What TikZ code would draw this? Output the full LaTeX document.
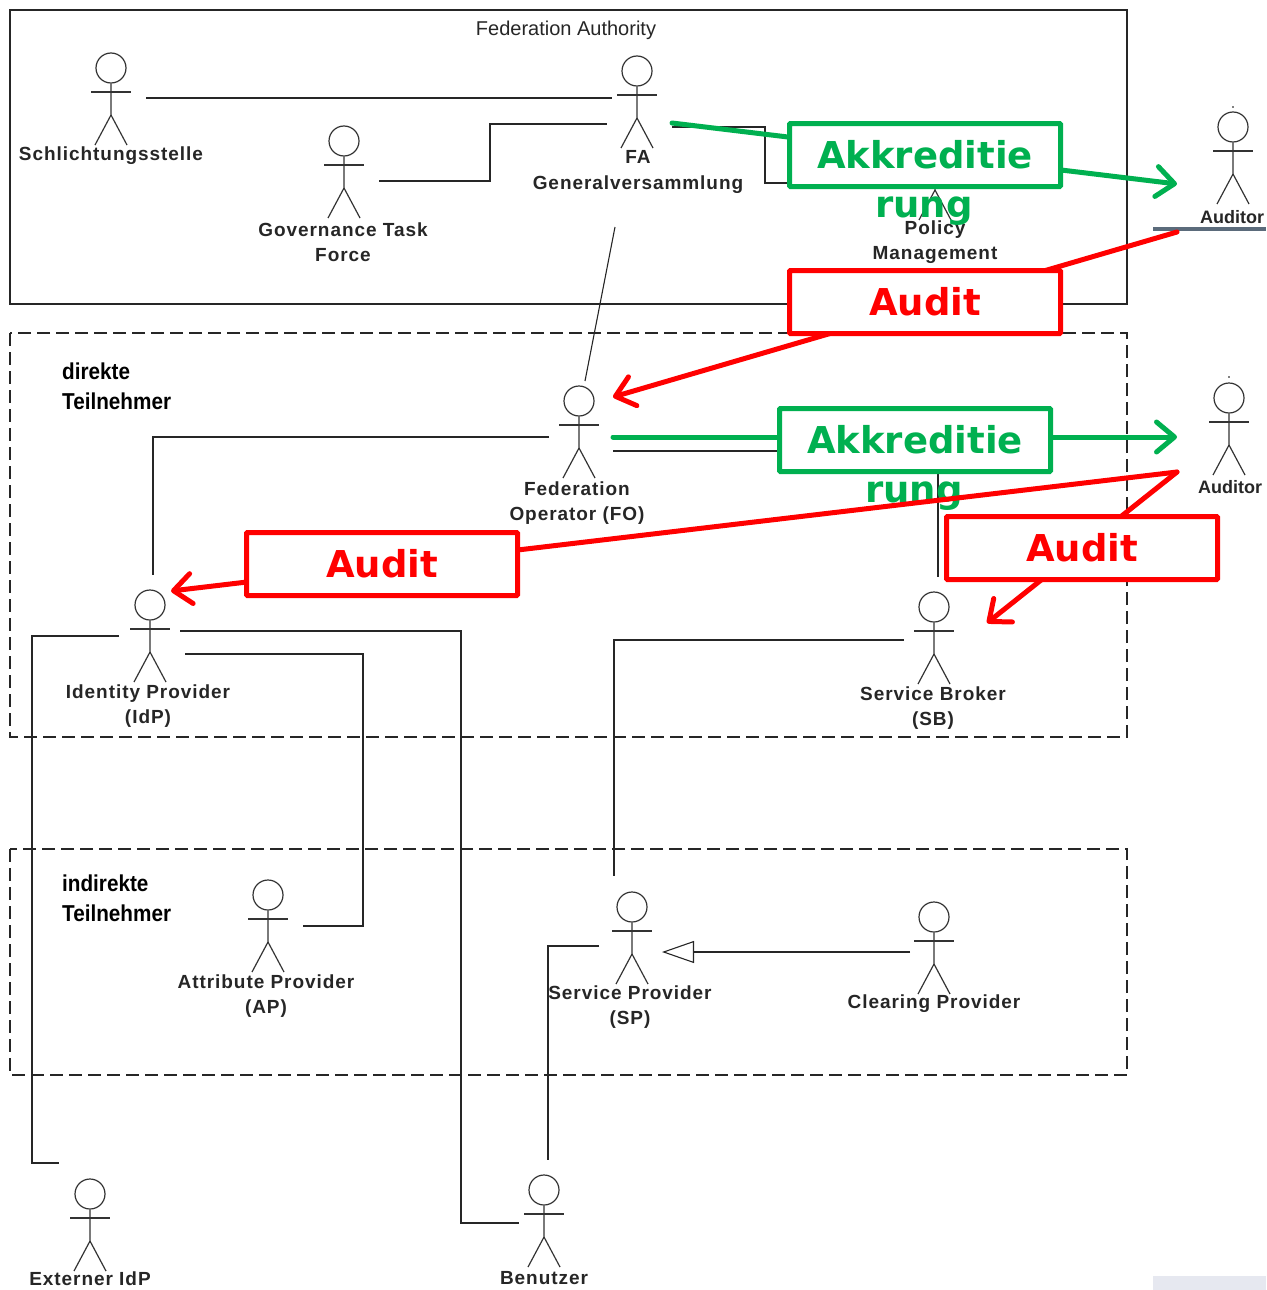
\documentclass[tikz,border=0pt]{standalone}
\usepackage{fontspec}
\setmainfont{Liberation Sans}
\newfontfamily\boxfont{DejaVu Sans}
\newfontfamily\lblfont[LetterSpace=5]{Liberation Sans}
\usetikzlibrary{arrows.meta}
\definecolor{akkgreen}{HTML}{00B050}
\definecolor{barblue}{HTML}{5B6B7B}
\definecolor{cornergray}{HTML}{E6E8F0}
\tikzset{
  every pic/.style={line width=1.2pt,draw=black!80},
  actor/.pic={
    \node[circle,draw,minimum size=30pt,inner sep=0pt] (-head) at (0,0) {};
    \draw (-head.south) -- (0,47) -- (-16,77);
    \draw (0,47) -- (16,77);
    \draw (-20,24) -- (20,24);
  },
  lbl/.style={font=\lblfont\fontsize{19}{25.5}\bfseries\selectfont,align=center,inner sep=0pt,text=black!85},
  grp/.style={font=\fontsize{23}{30}\selectfont\bfseries,align=left,inner sep=0pt,anchor=west,xscale=0.9,transform shape},
  wire/.style={line width=1.1pt,black!85},
  frame/.style={line width=1.3pt,black!85},
  dframe/.style={frame,dash pattern=on 13pt off 6pt},
  akk/.style={draw=akkgreen,text=akkgreen,fill=white,line width=5pt,rounded corners=1pt,
    minimum width=271pt,minimum height=63pt,inner sep=0pt,font=\boxfont\fontsize{37}{37}\bfseries\selectfont},
  audit/.style={akk,draw=red,text=red},
  overflow/.style={text=akkgreen,inner sep=0pt,font=\boxfont\fontsize{37}{37}\bfseries\selectfont},
  flow/.style={line width=5pt,line cap=round,-{Straight Barb[length=18pt,width=30pt,round]}}
}
\begin{document}
\begin{tikzpicture}[x=1pt,y=-1pt]
  \useasboundingbox (0,0) rectangle (1266,1290);
  \fill[cornergray] (1153,1276) rectangle (1266,1290);

  % groups
  \draw[frame] (10,10) rectangle (1127,304);
  \draw[dframe] (10,333) rectangle (1127,737);
  \draw[dframe] (10,849) rectangle (1127,1075);
  \node[lbl,font=\fontsize{20}{25}\selectfont] (faTitle) at (566,30) {Federation Authority};
  \node[grp] (direkt) at (62,386) {direkte\\Teilnehmer};
  \node[grp] (indirekt) at (62,898) {indirekte\\Teilnehmer};

  % actors
  \pic (schlicht) at (111,68) {actor};
  \pic (gov) at (344,141) {actor};
  \pic (fa) at (637,71) {actor};
  \pic (policy) at (935,143) {actor};
  \pic (fo) at (579,401) {actor};
  \pic (idp) at (150,605) {actor};
  \pic (sb) at (934,607) {actor};
  \pic (ap) at (268,895) {actor};
  \pic (sp) at (632,907) {actor};
  \pic (clearing) at (934,917) {actor};
  \pic (extern) at (90,1194) {actor};
  \pic (benutzer) at (544,1190) {actor};
  \pic[draw=black,line width=1.6pt] (auditorA) at (1233,127) {actor};
  \pic[draw=black,line width=1.6pt] (auditorB) at (1229,398) {actor};
  \fill (1233,107) circle (0.8pt) (1229,377) circle (0.8pt);
  \draw[barblue,line width=4pt] (1153,229) -- (1266,229);

  \node[lbl] (schlichtLbl) at (111,156) {Schlichtungsstelle};
  \node[lbl] (govLbl) at (343,242) {Governance Task\\Force};
  \node[lbl] (faLbl) at (638,172) {FA\\Generalversammlung};
  \node[lbl] (policyLbl) at (935,242) {Policy\\Management};
  \node[lbl] (foLbl) at (577,503) {Federation\\Operator (FO)};
  \node[lbl] (idpLbl) at (148,706) {Identity Provider\\(IdP)};
  \node[lbl] (sbLbl) at (933,708) {Service Broker\\(SB)};
  \node[lbl] (apLbl) at (266,996) {Attribute Provider\\(AP)};
  \node[lbl] (spLbl) at (630,1007) {Service Provider\\(SP)};
  \node[lbl] (clearingLbl) at (934,1004) {Clearing Provider};
  \node[lbl] (externLbl) at (90,1279) {Externer IdP};
  \node[lbl] (benutzerLbl) at (544,1278) {Benutzer};
  \node[lbl,font=\fontsize{18}{18}\bfseries\selectfont] (auditorALbl) at (1232,217) {Auditor};
  \node[lbl,font=\fontsize{18}{18}\bfseries\selectfont] (auditorBLbl) at (1230,487) {Auditor};

  % connector ends
  \coordinate (schlichtE) at (146,98);
  \coordinate (faW) at (612,98);
  \coordinate (govE) at (379,181);
  \coordinate (faWb) at (607,124);
  \coordinate (faE) at (672,127);
  \coordinate (policyW) at (915,183);
  \coordinate (faS) at (615,227);
  \coordinate (foN) at (585,381);
  \coordinate (foW) at (549,437);
  \coordinate (idpN) at (153,575);
  \coordinate (foE) at (613,451);
  \coordinate (sbN) at (938,577);
  \coordinate (idpW) at (119,636);
  \coordinate (externW) at (59,1163);
  \coordinate (idpE) at (180,631);
  \coordinate (benutzerW) at (519,1223);
  \coordinate (idpEb) at (185,654);
  \coordinate (apE) at (303,926);
  \coordinate (sbW) at (904,640);
  \coordinate (spN) at (614,876);
  \coordinate (spW) at (599,946);
  \coordinate (benutzerN) at (548,1160);
  \coordinate (clearingW) at (910,952);
  \coordinate (spE) at (662,952);

  % associations
  \draw[wire] (schlichtE) -- (faW);
  \draw[wire] (govE) -| (490,124) -- (faWb);
  \draw[wire] (faE) -| (765,183) -- (policyW);
  \draw[wire] (faS) -- (foN);
  \draw[wire] (foW) -| (idpN);
  \draw[wire] (foE) -| (sbN);
  \draw[wire] (idpW) -| (32,1163) -- (externW);
  \draw[wire] (idpE) -| (461,1223) -- (benutzerW);
  \draw[wire] (idpEb) -| (363,926) -- (apE);
  \draw[wire] (sbW) -| (spN);
  \draw[wire] (spW) -| (benutzerN);
  \draw[wire,-{Triangle[open,fill=white,length=32pt,width=22pt]}] (clearingW) -- (spE);

  % overlay
  \coordinate (greenA) at (672,123);
  \coordinate (auditorAin) at (1177,184);
  \coordinate (greenB) at (613,437);
  \coordinate (auditorBin) at (1177,437);
  \coordinate (auditorAout) at (1177,232);
  \coordinate (auditorBout) at (1177,472);
  \coordinate (foIn) at (613,397);
  \coordinate (idpIn) at (171,591);
  \coordinate (sbIn) at (987,623);

  \node[overflow] (rungA) at (924,211) {rung};
  \node[overflow] (rungB) at (914,496) {rung};
  \draw[flow,akkgreen] (greenA) -- (auditorAin);
  \draw[flow,akkgreen] (greenB) -- (auditorBin);
  \draw[flow,red] (auditorAout) -- (foIn);
  \draw[flow,red] (auditorBout) -- (idpIn);
  \draw[flow,red] (auditorBout) -- (sbIn);

  \node[akk] (akkA) at (925,155) {Akkreditie};
  \node[akk] (akkB) at (915,440) {Akkreditie};
  \node[audit] (auditA) at (925,302) {Audit};
  \node[audit] (auditB) at (382,564) {Audit};
  \node[audit] (auditC) at (1082,548) {Audit};
\end{tikzpicture}
\end{document}
